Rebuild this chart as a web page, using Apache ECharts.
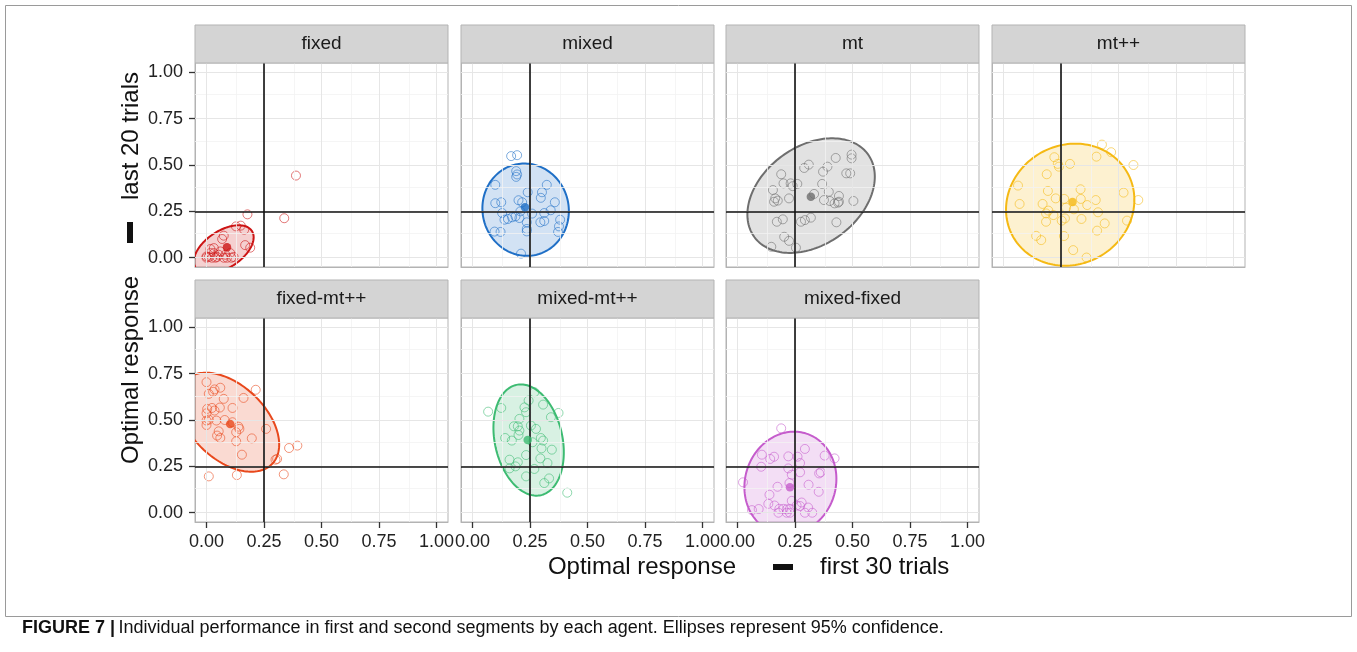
<!DOCTYPE html>
<html><head><meta charset="utf-8">
<script src="https://cdn.jsdelivr.net/npm/echarts@6/dist/echarts.min.js"></script>
<style>html,body{margin:0;padding:0;background:#fff}#c{width:1357px;height:652px}</style>
</head><body><div id="c"></div>
<script>
// ---------- data ----------
const panelNames = ['fixed', 'mixed', 'mt', 'mt++', 'fixed-mt++', 'mixed-mt++', 'mixed-fixed'];
const panelColors = ['#cc1414', '#1f6fc6', '#6e6e6e', '#f5b914', '#e8481c', '#3dbb72', '#c55ccc'];
const majorTicks = [0, 0.25, 0.5, 0.75, 1];
const minorTicks = [0.125, 0.375, 0.625, 0.875];
const refValue = 0.25;

const ptsFixed = [[0.389,0.443],[0.338,0.213],[0.178,0.234],[0.128,0.169],[0.149,0.173],[0.164,0.151],[0.068,0.101],[0.075,0.119],[0.168,0.068],[0.190,0.054],[0.017,0.047],[0.032,0.052],[0.0,0.0],[0.010,0.004],[0.0,0.007],[0.032,0.025],[0.046,0.004],[0.075,0.0],[0.089,0.0],[0.103,0.025],[0.118,0.004],[0.024,0.0],[0.039,0.0],[0.060,0.034],[0.108,0.0],[0.017,0.025],[0.053,0.016],[0.082,0.016]];
const ptsMixed = [[0.168,0.548],[0.194,0.553],[0.190,0.467],[0.194,0.449],[0.190,0.436],[0.099,0.393],[0.323,0.393],[0.302,0.353],[0.297,0.323],[0.240,0.353],[0.358,0.299],[0.099,0.294],[0.125,0.299],[0.200,0.310],[0.216,0.299],[0.340,0.256],[0.312,0.241],[0.129,0.241],[0.139,0.205],[0.154,0.209],[0.172,0.218],[0.187,0.223],[0.204,0.214],[0.236,0.191],[0.259,0.238],[0.295,0.191],[0.312,0.198],[0.381,0.205],[0.376,0.169],[0.372,0.139],[0.236,0.155],[0.236,0.142],[0.096,0.141],[0.122,0.139],[0.211,0.022],[0.208,0.250]];
const ptsMt = [[0.427,0.538],[0.496,0.556],[0.496,0.536],[0.290,0.484],[0.310,0.502],[0.391,0.491],[0.372,0.464],[0.473,0.455],[0.490,0.455],[0.190,0.450],[0.200,0.401],[0.231,0.401],[0.260,0.398],[0.240,0.386],[0.368,0.398],[0.154,0.365],[0.397,0.356],[0.441,0.333],[0.164,0.320],[0.175,0.308],[0.159,0.302],[0.224,0.320],[0.333,0.344],[0.376,0.311],[0.401,0.306],[0.422,0.293],[0.437,0.297],[0.441,0.302],[0.504,0.306],[0.171,0.194],[0.197,0.207],[0.276,0.194],[0.293,0.203],[0.319,0.216],[0.430,0.191],[0.203,0.113],[0.224,0.091],[0.147,0.059],[0.254,0.054]];
const ptsMtpp = [[0.428,0.610],[0.468,0.569],[0.404,0.545],[0.565,0.500],[0.221,0.542],[0.236,0.506],[0.241,0.491],[0.289,0.506],[0.188,0.450],[0.063,0.389],[0.193,0.360],[0.335,0.369],[0.522,0.351],[0.586,0.311],[0.070,0.290],[0.170,0.290],[0.227,0.320],[0.264,0.317],[0.336,0.317],[0.364,0.284],[0.401,0.311],[0.195,0.254],[0.185,0.239],[0.217,0.230],[0.272,0.270],[0.306,0.261],[0.267,0.212],[0.253,0.200],[0.185,0.194],[0.339,0.209],[0.411,0.245],[0.440,0.185],[0.537,0.200],[0.407,0.146],[0.142,0.118],[0.164,0.095],[0.263,0.117],[0.303,0.041],[0.361,0.001]];
const ptsFixedMtpp = [[0.0,0.704],[0.010,0.641],[0.029,0.652],[0.035,0.665],[0.060,0.674],[0.075,0.614],[0.214,0.663],[0.161,0.619],[0.0,0.536],[0.003,0.560],[0.024,0.565],[0.035,0.551],[0.058,0.567],[0.113,0.565],[0.0,0.497],[0.010,0.502],[0.043,0.497],[0.0,0.473],[0.079,0.500],[0.113,0.488],[0.139,0.464],[0.143,0.452],[0.053,0.439],[0.046,0.416],[0.060,0.403],[0.129,0.434],[0.129,0.385],[0.197,0.401],[0.259,0.452],[0.154,0.313],[0.300,0.286],[0.307,0.290],[0.359,0.349],[0.395,0.362],[0.010,0.196],[0.132,0.203],[0.336,0.207]];
const ptsMixedMtpp = [[0.068,0.545],[0.125,0.565],[0.269,0.650],[0.244,0.605],[0.307,0.583],[0.226,0.568],[0.233,0.542],[0.374,0.538],[0.341,0.515],[0.204,0.506],[0.180,0.466],[0.197,0.466],[0.204,0.443],[0.254,0.470],[0.276,0.452],[0.200,0.419],[0.142,0.403],[0.171,0.389],[0.261,0.380],[0.297,0.403],[0.307,0.389],[0.345,0.340],[0.300,0.347],[0.233,0.311],[0.161,0.286],[0.197,0.272],[0.187,0.250],[0.161,0.239],[0.295,0.293],[0.326,0.268],[0.269,0.236],[0.233,0.196],[0.333,0.185],[0.312,0.160],[0.412,0.108]];
const ptsMixedFixed = [[0.190,0.455],[0.293,0.344],[0.106,0.313],[0.142,0.290],[0.159,0.302],[0.221,0.304],[0.261,0.302],[0.379,0.308],[0.422,0.293],[0.272,0.268],[0.221,0.239],[0.103,0.248],[0.272,0.218],[0.236,0.205],[0.355,0.212],[0.362,0.218],[0.024,0.164],[0.174,0.140],[0.226,0.160],[0.309,0.151],[0.353,0.113],[0.139,0.097],[0.236,0.064],[0.279,0.055],[0.134,0.048],[0.161,0.039],[0.182,0.021],[0.200,0.021],[0.214,0.018],[0.228,0.021],[0.257,0.039],[0.272,0.036],[0.063,0.014],[0.092,0.020],[0.307,0.028],[0.178,0.0],[0.214,0.0],[0.228,0.0],[0.293,0.0],[0.325,0.0]];
const panelPoints = [ptsFixed, ptsMixed, ptsMt, ptsMtpp, ptsFixedMtpp, ptsMixedMtpp, ptsMixedFixed];

// group centres (filled dots)
const panelMeans = [[0.089,0.056],[0.228,0.272],[0.319,0.329],[0.300,0.300],[0.103,0.479],[0.240,0.392],[0.228,0.138]];
// 95% ellipses: [centre x, centre y, half-width x, half-height y, tilt coefficient]
const panelEllipses = [[0.075,0.045,0.13,0.13,0.5],[0.231,0.259,0.188,0.249,-0.03],[0.320,0.335,0.277,0.309,0.33],[0.290,0.286,0.279,0.329,0.08],[0.096,0.488,0.22,0.267,-0.45],[0.244,0.392,0.153,0.300,-0.22],[0.230,0.160,0.200,0.277,0.08]];

// ---------- layout ----------
const colLeft = [195, 461, 726, 992];
const rowTop = [63, 318];
const panelW = 253, panelH = 204, stripH = 38;
const FONT = '"Liberation Sans", Arial, sans-serif';

function hexA(hex, a) {
  const n = parseInt(hex.slice(1), 16);
  return 'rgba(' + (n >> 16 & 255) + ',' + (n >> 8 & 255) + ',' + (n & 255) + ',' + a + ')';
}

const grids = [], xAxes = [], yAxes = [], series = [], graphics = [];
panelNames.forEach((name, i) => {
  const row = i < 4 ? 0 : 1, col = i < 4 ? i : i - 4;
  const left = colLeft[col], top = rowTop[row];
  grids.push({ left: left, top: top, width: panelW, height: panelH, show: true,
    backgroundColor: '#fff', borderColor: '#b3b3b3', borderWidth: 1, containLabel: false });
  const showX = row === 1;
  const showY = col === 0;
  const tickStyle = { color: '#333', width: 1.3 };
  xAxes.push({ type: 'value', gridIndex: i, min: -0.05, max: 1.05, position: 'bottom',
    axisLine: { show: true, onZero: false, lineStyle: { color: '#b3b3b3', width: 1 } },
    axisTick: { show: showX, inside: false, customValues: majorTicks, length: 6, lineStyle: tickStyle },
    axisLabel: { show: showX, customValues: majorTicks, margin: 11, color: '#222', fontSize: 18, fontFamily: FONT,
      formatter: v => v.toFixed(2) },
    splitLine: { show: false }, minorSplitLine: { show: false } });
  yAxes.push({ type: 'value', gridIndex: i, min: -0.05, max: 1.05, position: 'left',
    axisLine: { show: true, onZero: false, lineStyle: { color: '#b3b3b3', width: 1 } },
    axisTick: { show: showY, inside: false, customValues: majorTicks, length: 6, lineStyle: tickStyle },
    axisLabel: { show: showY, customValues: majorTicks, margin: 12, color: '#222', fontSize: 18, fontFamily: FONT,
      formatter: v => v.toFixed(2) },
    splitLine: { show: false }, minorSplitLine: { show: false } });

  const col_ = panelColors[i];
  // background grid lines (major + minor)
  const gl = [];
  minorTicks.forEach(v => { gl.push({ xAxis: v, lineStyle: { color: '#f3f3f3', width: 0.8, type: 'solid' } });
                            gl.push({ yAxis: v, lineStyle: { color: '#f3f3f3', width: 0.8, type: 'solid' } }); });
  majorTicks.forEach(v => { gl.push({ xAxis: v, lineStyle: { color: '#e6e6e6', width: 1, type: 'solid' } });
                            gl.push({ yAxis: v, lineStyle: { color: '#e6e6e6', width: 1, type: 'solid' } }); });
  series.push({ type: 'scatter', xAxisIndex: i, yAxisIndex: i, data: [], silent: true, z: 1,
    markLine: { silent: true, symbol: ['none', 'none'], label: { show: false }, emphasis: { disabled: true }, data: gl } });

  // ellipse
  series.push({ type: 'custom', xAxisIndex: i, yAxisIndex: i, z: 2, clip: true, silent: true,
    data: [panelEllipses[i]], encode: { x: 0, y: 1 },
    renderItem: function (params, api) {
      const cx = api.value(0), cy = api.value(1), rx = api.value(2), ry = api.value(3), rho = api.value(4);
      const d = Math.acos(rho);
      const pts = [];
      for (let k = 0; k <= 160; k++) {
        const t = k / 160 * Math.PI * 2;
        pts.push(api.coord([cx + rx * Math.cos(t), cy + ry * Math.cos(t - d)]));
      }
      return { type: 'polygon', shape: { points: pts },
        style: { fill: hexA(col_, 0.2), stroke: col_, lineWidth: 2 } };
    } });

  // reference lines
  series.push({ type: 'scatter', xAxisIndex: i, yAxisIndex: i, data: [], silent: true, z: 3,
    markLine: { silent: true, symbol: ['none', 'none'], label: { show: false }, emphasis: { disabled: true },
      lineStyle: { color: '#111', width: 1.6, type: 'solid' },
      data: [{ xAxis: refValue }, { yAxis: refValue }] } });

  // individual points
  series.push({ type: 'scatter', xAxisIndex: i, yAxisIndex: i, z: 4, silent: true,
    data: panelPoints[i], symbol: 'circle', symbolSize: 9,
    itemStyle: { color: 'rgba(0,0,0,0)', borderColor: hexA(col_, 0.72), borderWidth: 1 } });
  // mean
  series.push({ type: 'scatter', xAxisIndex: i, yAxisIndex: i, z: 5, silent: true,
    data: [panelMeans[i]], symbol: 'circle', symbolSize: 8.5,
    itemStyle: { color: col_ } });

  // strip
  graphics.push({ type: 'rect', silent: true, z: 10,
    shape: { x: left, y: top - stripH, width: panelW, height: stripH },
    style: { fill: '#d4d4d4', stroke: '#b3b3b3', lineWidth: 1 } });
  graphics.push({ type: 'text', silent: true, z: 11, x: left + panelW / 2, y: top - stripH / 2,
    style: { text: name, fill: '#1a1a1a', font: '19px ' + FONT, textAlign: 'center', textVerticalAlign: 'middle' } });
});

// frame
graphics.push({ type: 'rect', silent: true, z: 0,
  shape: { x: 5.5, y: 5.5, width: 1346, height: 611 },
  style: { fill: 'none', stroke: '#9a9a9a', lineWidth: 1 } });

// axis titles
const titleFont = '24px ' + FONT;
// x title
graphics.push({ type: 'text', silent: true, z: 11, x: 736, y: 567,
  style: { text: 'Optimal response', font: titleFont, fill: '#111', textAlign: 'right', textVerticalAlign: 'middle' } });
graphics.push({ type: 'rect', silent: true, z: 11, shape: { x: 773, y: 564, width: 20, height: 6 }, style: { fill: '#111' } });
graphics.push({ type: 'text', silent: true, z: 11, x: 820, y: 567,
  style: { text: 'first 30 trials', font: titleFont, fill: '#111', textAlign: 'left', textVerticalAlign: 'middle' } });
// y title (rotated, reads bottom to top)
graphics.push({ type: 'text', silent: true, z: 11, x: 131, y: 464, rotation: Math.PI / 2,
  style: { text: 'Optimal response', font: titleFont, fill: '#111', textAlign: 'left', textVerticalAlign: 'middle' } });
graphics.push({ type: 'rect', silent: true, z: 11, shape: { x: 127, y: 222, width: 6, height: 21 }, style: { fill: '#111' } });
graphics.push({ type: 'text', silent: true, z: 11, x: 131, y: 200, rotation: Math.PI / 2,
  style: { text: 'last 20 trials', font: titleFont, fill: '#111', textAlign: 'left', textVerticalAlign: 'middle' } });

// caption
graphics.push({ type: 'text', silent: true, z: 11, x: 22, y: 628,
  style: { text: '{b|FIGURE 7 |} {a|Individual performance in first and second segments by each agent. Ellipses represent 95% confidence.}',
    rich: { b: { font: 'bold 18px ' + FONT, fill: '#111' }, a: { font: '18px ' + FONT, fill: '#111' } },
    textAlign: 'left', textVerticalAlign: 'middle' } });

const chart = echarts.init(document.getElementById('c'), null, { renderer: 'canvas' });
chart.setOption({ animation: false, backgroundColor: '#fff',
  grid: grids, xAxis: xAxes, yAxis: yAxes, series: series, graphic: graphics });
</script></body></html>
